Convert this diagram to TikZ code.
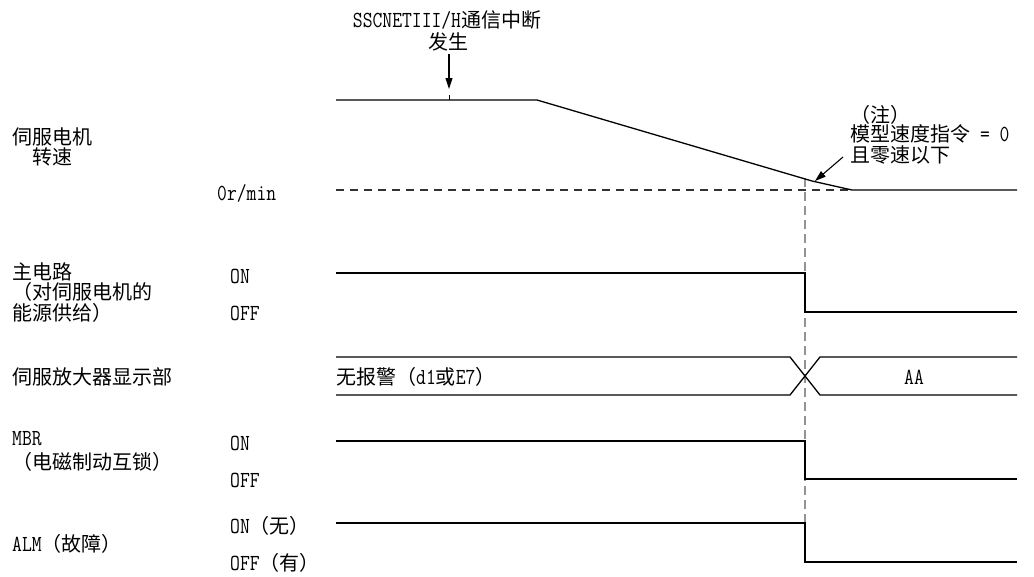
\documentclass[tikz,border=0pt]{standalone}
\usepackage{fontspec}
\setmonofont{Latin Modern Mono}[Scale=1.15,FakeStretch=0.83]
\newfontfamily\cjk{Noto Sans CJK SC}
\usetikzlibrary{arrows.meta}
\begin{document}
\begin{tikzpicture}[x=1pt,y=-1pt,
  lbl/.style={inner sep=0pt,anchor=west,text height=16pt,text depth=2pt,
    font=\fontsize{20}{20}\selectfont\ttfamily},
  ctr/.style={lbl,anchor=center},
  sig/.style={line width=1.3pt,line join=miter},
  zero/.style={line width=1.1pt,black!80,dash pattern=on 8pt off 6pt},
  tline/.style={line width=1.2pt,gray!85,dash pattern=on 9pt off 5pt},
  arr/.style={line width=1.1pt,-{Triangle[length=11pt,width=7pt]}}]
\useasboundingbox (0,0) rectangle (1034,576);

% ---- top event label
\node[ctr] (ev1) at (447,20) {SSCNETIII/H{\cjk 通信中断}};
\node[ctr] (ev2) at (448,42) {{\cjk 发生}};
\coordinate (evs) at (449,54);
\coordinate (evt) at (449,89);
\draw[arr] (evs) -- (evt);
\coordinate (tk1) at (449,95);
\coordinate (tk2) at (449,100);
\draw[line width=1pt] (tk1) -- (tk2);

% ---- left labels
\node[lbl] (l1a) at (12,137) {{\cjk 伺服电机}};
\node[lbl] (l1b) at (32,157) {{\cjk 转速}};
\node[lbl] (l1c) at (217,193) {0r/min};

\node[lbl] (l2a) at (12,272) {{\cjk 主电路}};
\node[lbl] (l2b) at (12,292) {{\cjk （对伺服电机的}};
\node[lbl] (l2c) at (12,313) {{\cjk 能源供给）}};
\node[lbl] (l2on) at (230,276) {ON};
\node[lbl] (l2off) at (230,313) {OFF};

\node[lbl] (l3a) at (12,377) {{\cjk 伺服放大器显示部}};

\node[lbl] (l4a) at (12,438) {MBR};
\node[lbl] (l4b) at (12,462) {{\cjk （电磁制动互锁）}};
\node[lbl] (l4on) at (230,443) {ON};
\node[lbl] (l4off) at (230,480) {OFF};

\node[lbl] (l5a) at (12,544) {ALM{\cjk （故障）}};
\node[lbl] (l5on) at (230,526) {ON{\cjk （无）}};
\node[lbl] (l5off) at (230,563) {OFF{\cjk （有）}};

% ---- note
\node[lbl] (n1) at (850,115) {{\cjk （注）}};
\node[lbl] (n2) at (850,134) {{\cjk 模型速度指令} = 0};
\node[lbl] (n3) at (850,155) {{\cjk 且零速以下}};

% ---- timing reference (dashed vertical)
\coordinate (vt) at (805,178);
\coordinate (vb) at (805,523);
\draw[tline] (vt) -- (vb);

% ---- speed
\coordinate (s0) at (336,100);
\coordinate (s1) at (537,100);
\coordinate (s2) at (812,181);
\coordinate (s3) at (852,190);
\coordinate (s4) at (1017,190);
\coordinate (z0) at (336,190);
\draw[zero] (z0) -- (s3);
\draw[sig] (s0) -- (s1) -- (s2) -- (s3) -- (s4);
\coordinate (na) at (843,157);
\coordinate (nb) at (815,181);
\draw[arr] (na) -- (nb);

% ---- main circuit
\coordinate (m0) at (336,273);
\coordinate (m1) at (805,273);
\coordinate (m2) at (805,312);
\coordinate (m3) at (1017,312);
\draw[sig] (m0) -- (m1) -- (m2) -- (m3);

% ---- display
\coordinate (d0t) at (336,357);
\coordinate (d0b) at (336,395);
\coordinate (d1t) at (790,357);
\coordinate (d1b) at (790,395);
\coordinate (d2t) at (820,357);
\coordinate (d2b) at (820,395);
\coordinate (d3t) at (1017,357);
\coordinate (d3b) at (1017,395);
\draw[sig] (d0t) -- (d1t) -- (d2b) -- (d3b);
\draw[sig] (d0b) -- (d1b) -- (d2t) -- (d3t);
\node[lbl] (dtx) at (336,377) {{\cjk 无报警（}d1{\cjk 或}E7{\cjk ）}};
\node[ctr] (daa) at (914,377) {AA};

% ---- MBR
\coordinate (b0) at (336,441);
\coordinate (b1) at (805,441);
\coordinate (b2) at (805,479);
\coordinate (b3) at (1017,479);
\draw[sig] (b0) -- (b1) -- (b2) -- (b3);

% ---- ALM
\coordinate (a0) at (336,523);
\coordinate (a1) at (805,523);
\coordinate (a2) at (805,562);
\coordinate (a3) at (1017,562);
\draw[sig] (a0) -- (a1) -- (a2) -- (a3);
\end{tikzpicture}
\end{document}
